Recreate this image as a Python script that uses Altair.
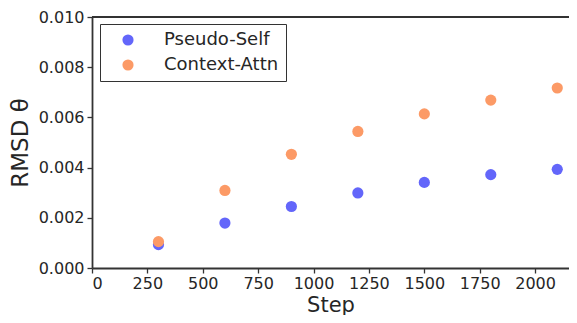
import altair as alt
import pandas as pd

steps = [300, 600, 900, 1200, 1500, 1800, 2100]
pseudo_self = [0.00093, 0.00179, 0.00245, 0.00299, 0.00341, 0.00372, 0.00393]
context_attn = [0.00105, 0.00309, 0.00453, 0.00544, 0.00614, 0.00669, 0.00717]
series = ["Pseudo-Self", "Context-Attn"]
colors = ["#6366FA", "#FC9A66"]
x_ticks = [0, 250, 500, 750, 1000, 1250, 1500, 1750, 2000]
y_ticks = [0.0, 0.002, 0.004, 0.006, 0.008, 0.010]

rows = []
for s, v in zip(steps, pseudo_self):
    rows.append({"Step": s, "RMSD": v, "Model": series[0]})
for s, v in zip(steps, context_attn):
    rows.append({"Step": s, "RMSD": v, "Model": series[1]})
df = pd.DataFrame(rows)

font = "DejaVu Sans"
W, H = 477, 251

points = alt.Chart(df).mark_circle(size=125, opacity=1).encode(
    x=alt.X("Step:Q", scale=alt.Scale(domain=[0, 2153], nice=False, zero=True),
            axis=alt.Axis(values=x_ticks, title="Step", format="d")),
    y=alt.Y("RMSD:Q", scale=alt.Scale(domain=[0, 0.010], nice=False),
            axis=alt.Axis(values=y_ticks, title="RMSD θ", format=".3f")),
    color=alt.Color("Model:N", scale=alt.Scale(domain=series, range=colors),
                    legend=alt.Legend(title=None, orient="none", legendX=8, legendY=7,
                                      symbolType="circle", symbolSize=125,
                                      labelFontSize=18, labelFont=font, labelColor="#262626",
                                      strokeColor="#333333", fillColor="white",
                                      padding=7, symbolOffset=12, labelOffset=27,
                                      rowPadding=7, symbolStrokeWidth=0, cornerRadius=0)),
)

top_frame = alt.Chart(df).mark_rule(color="#333333", strokeWidth=1.5).encode(
    x=alt.value(0), x2=alt.value(W), y=alt.value(0)
)

chart = alt.layer(points, top_frame).properties(
    width=W, height=H,
    autosize=alt.AutoSizeParams(type="none"),
    padding={"left": 84, "top": 9, "right": 0, "bottom": 47},
).configure_view(
    stroke=None
).configure_axis(
    grid=False, labelFont=font, titleFont=font, labelFontSize=16, titleFontSize=23,
    labelColor="#262626", titleColor="#262626", titleFontWeight="normal",
    domainColor="#333333", domainWidth=1.8, tickColor="#333333", tickWidth=1.3,
    tickSize=5, labelPadding=3
).configure_axisX(
    titlePadding=3, titleFontSize=21, labelPadding=2
).configure_axisY(
    titlePadding=6
)

chart.save("out.html", embed_options={"renderer": "svg", "actions": False})
